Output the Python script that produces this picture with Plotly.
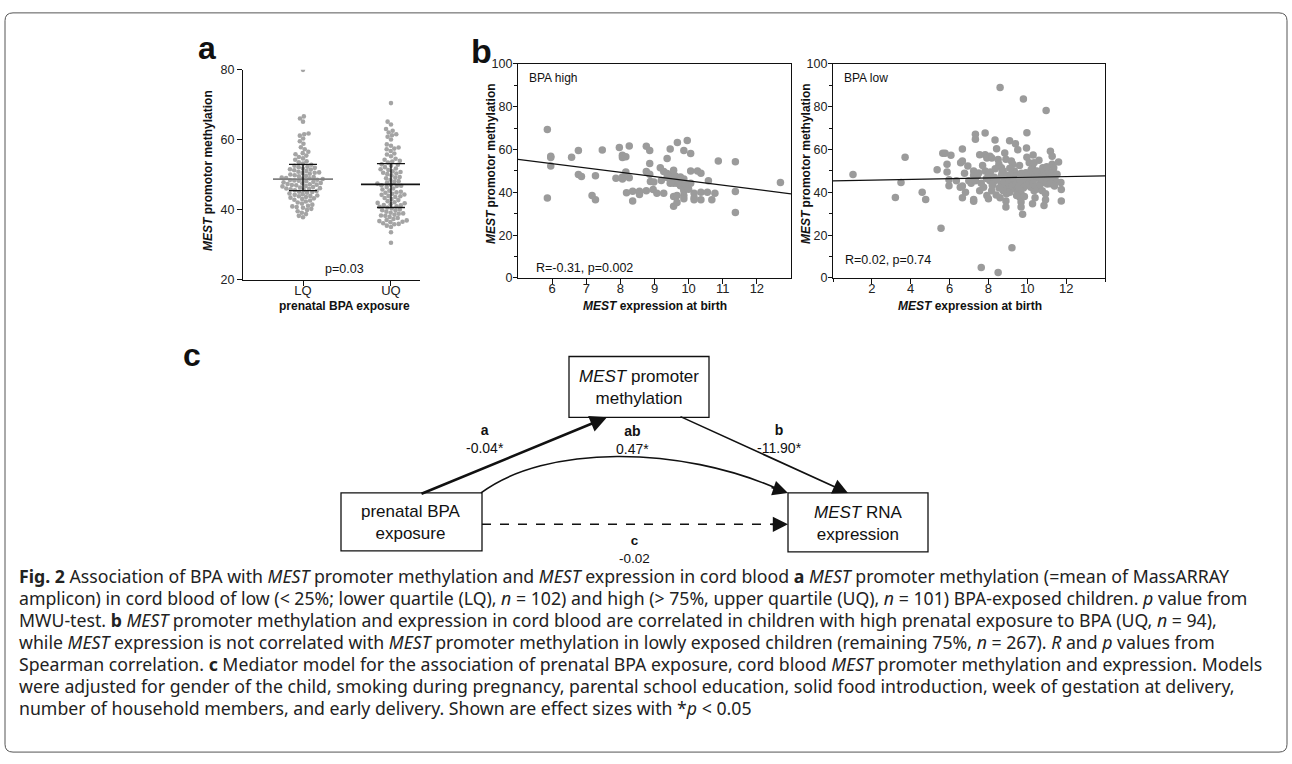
import plotly.graph_objects as go
import math

W, H = 1292, 764
def px(x): return x / W
def py(y): return 1 - y / H

# ---------------- DATA ----------------
groups = ["LQ", "UQ"]
lq_meth = [80.0, 66.7, 66.1, 65.2, 61.8, 61.6, 61.2, 60.4, 59.6, 58.9, 57.9, 57.3, 56.6, 56.2, 55.9,
           55.5, 55.1, 54.7, 54.3, 53.9, 53.6, 53.2, 52.9, 52.6, 52.3, 52.0, 51.8, 51.5, 51.3, 51.1,
           50.9, 50.7, 50.5, 50.3, 50.1, 49.9, 49.7, 49.6, 49.4, 49.2, 49.1, 48.9, 48.8, 48.6, 48.5,
           48.3, 48.2, 48.0, 47.9, 47.7, 47.6, 47.4, 47.3, 47.1, 47.0, 46.8, 46.7, 46.5, 46.4, 46.2,
           46.1, 45.9, 45.7, 45.6, 45.4, 45.2, 45.1, 44.9, 44.7, 44.5, 44.3, 44.1, 43.9, 43.7, 43.5,
           43.3, 43.1, 42.9, 42.7, 42.4, 42.1, 41.8, 41.5, 41.2, 41.0, 40.8, 40.6, 40.3, 40.0, 39.6,
           39.2, 38.8, 38.3, 37.9, 50.6, 49.0, 48.4, 47.2, 46.0, 51.6, 44.0, 52.2]
uq_meth = [70.5, 65.2, 64.4, 63.1, 62.6, 62.1, 61.6, 60.9, 60.1, 58.3, 57.8, 57.3, 56.8, 56.1, 55.3,
           54.6, 54.0, 53.5, 53.0, 52.6, 52.2, 51.8, 51.4, 51.0, 50.6, 50.2, 49.8, 49.4, 49.0, 48.6,
           48.2, 47.8, 47.5, 47.2, 46.8, 46.5, 46.1, 45.8, 45.5, 45.2, 44.9, 44.6, 44.3, 44.0, 43.7,
           43.4, 43.1, 42.8, 42.5, 42.2, 41.9, 41.6, 41.3, 41.0, 40.7, 40.4, 40.1, 39.8, 39.5, 39.2,
           38.9, 38.6, 38.3, 38.0, 37.7, 37.4, 37.1, 36.8, 36.5, 36.2, 35.9, 35.5, 35.1, 33.6, 30.6,
           58.7, 57.5, 53.8, 52.9, 51.6, 50.4, 49.2, 48.0, 46.9, 45.0, 43.9, 42.0, 40.9, 39.9, 38.4,
           37.0, 36.0, 55.8, 54.3, 50.8, 47.0, 44.4, 41.4, 39.0, 36.6, 61.3]
group_mean = [48.8, 47.3]
group_upper = [53.0, 53.2]
group_lower = [45.5, 40.7]
p_text_a = "p=0.03"

high_pts = [(5.86, 69.4), (5.96, 56.9), (5.96, 56.3), (5.96, 52.3), (5.86, 37.3), (6.57, 56.4), (6.77, 59.6),
            (6.77, 48.3), (6.86, 47.4), (7.27, 47.7), (7.17, 38.5), (7.27, 36.5), (7.47, 59.8), (7.87, 46.6),
            (7.97, 61.0), (8.06, 57.3), (8.06, 56.3), (8.16, 56.6), (8.06, 47.2), (8.06, 46.2), (8.16, 49.5),
            (8.26, 46.8), (8.26, 61.6), (8.18, 39.8), (8.36, 40.5), (8.36, 35.9), (8.56, 40.5), (8.56, 39.0),
            (8.76, 61.5), (8.86, 59.5), (8.76, 49.7), (8.86, 48.5), (8.86, 53.5), (8.76, 40.8), (8.88, 45.1),
            (8.98, 44.8), (8.96, 41.3), (9.07, 39.6), (9.17, 51.5), (9.27, 39.6), (9.37, 55.8), (9.46, 60.2),
            (9.27, 49.7), (9.37, 48.8), (9.46, 48.2), (9.56, 50.3), (9.37, 46.9), (9.46, 46.2), (9.56, 46.6),
            (9.46, 44.2), (9.56, 44.2), (9.66, 44.2), (9.66, 46.9), (9.76, 47.2), (9.56, 38.1), (9.66, 38.5),
            (9.56, 33.5), (9.66, 35.3), (9.67, 63.3), (9.76, 45.4), (9.86, 46.2), (9.76, 43.1), (9.86, 38.5),
            (9.86, 37.0), (9.86, 41.6), (9.86, 40.8), (9.86, 59.5), (9.96, 64.2), (10.06, 58.1), (10.06, 50.0),
            (10.06, 44.2), (10.16, 39.6), (10.16, 37.5), (10.16, 36.5), (10.26, 50.0), (10.36, 48.9),
            (10.36, 40.1), (10.36, 36.5), (10.55, 40.1), (10.58, 45.4), (10.68, 36.5), (10.77, 39.6),
            (10.87, 54.6), (11.37, 54.3), (11.37, 40.4), (11.37, 30.6), (12.69, 44.6), (9.5, 45.0),
            (9.6, 47.8), (9.7, 45.5), (9.4, 47.5), (9.9, 44.0), (9.2, 45.5), (10.0, 41.5)]
high_fit = (65.45, -2.01)   # intercept, slope

low_pts = [(1.03, 48.3), (3.71, 56.4), (3.21, 37.6), (3.5, 44.6), (4.59, 40.1), (4.77, 36.7), (5.36, 50.5),
           (5.56, 23.2), (5.65, 58.3), (5.77, 58.3), (5.87, 53.1), (5.87, 49.5), (5.97, 45.9), (5.97, 43.1),
           (6.07, 57.3), (6.35, 45.4), (6.57, 53.8), (6.66, 54.6), (6.66, 60.2), (6.55, 42.4), (6.66, 43.0),
           (6.66, 37.5), (6.77, 48.9), (6.82, 40.1), (6.94, 52.3), (6.99, 45.4), (7.11, 44.2), (7.24, 50.0),
           (7.24, 48.0), (7.24, 36.7), (7.24, 35.8), (7.33, 67.1), (7.33, 64.8), (7.33, 45.4), (7.43, 47.7),
           (7.55, 57.6), (7.55, 40.8), (7.63, 44.3), (7.75, 42.4), (7.63, 4.9), (7.83, 67.7), (7.83, 57.6),
           (7.92, 56.1), (7.83, 50.0), (8.0, 48.5), (7.92, 38.5), (8.0, 37.0), (8.08, 56.9), (8.17, 56.1),
           (8.08, 45.4), (8.25, 44.6), (8.17, 40.8), (8.34, 64.5), (8.42, 60.4), (8.5, 55.4), (8.5, 2.6),
           (8.6, 89.0), (8.54, 53.1), (8.67, 51.5), (8.76, 50.0), (8.67, 47.7), (8.84, 46.9), (9.0, 46.2),
           (8.67, 43.9), (8.84, 43.1), (9.0, 42.4), (8.76, 40.8), (8.93, 39.3), (9.1, 40.1), (8.6, 37.5),
           (8.84, 58.4), (8.9, 35.9), (8.9, 33.2), (9.09, 64.1), (9.18, 54.6), (9.26, 53.1), (9.21, 14.1),
           (9.39, 62.7), (9.51, 59.9), (9.34, 50.0), (9.51, 48.5), (9.68, 46.9), (9.34, 45.4), (9.51, 44.6),
           (9.68, 43.9), (9.34, 41.6), (9.51, 40.8), (9.68, 39.3), (9.6, 37.8), (9.68, 35.5), (9.68, 33.2),
           (9.76, 29.8), (9.8, 83.6), (9.85, 46.9), (9.93, 49.2), (10.0, 45.4), (9.96, 60.7), (9.98, 56.4),
           (9.98, 67.9), (10.1, 53.8), (10.27, 51.5), (10.35, 53.8), (10.18, 47.7), (10.35, 46.2),
           (10.52, 46.9), (10.18, 42.4), (10.35, 40.8), (10.52, 41.6), (10.27, 34.7), (10.69, 49.2),
           (10.86, 49.2), (11.03, 47.7), (10.69, 45.4), (10.86, 44.6), (11.03, 43.9), (10.77, 40.8),
           (10.94, 39.3), (10.86, 33.9), (10.94, 36.5), (10.97, 78.3), (11.19, 59.2), (11.28, 56.9),
           (11.28, 53.1), (11.36, 51.5), (11.36, 49.2), (11.53, 48.5), (11.45, 45.4), (11.61, 54.2),
           (11.73, 44.6), (11.75, 41.3), (11.75, 35.9), (8.3, 47.0), (8.45, 45.8), (8.55, 42.0), (8.7, 49.0),
           (8.8, 45.0), (8.95, 48.0), (9.05, 44.5), (9.15, 47.5), (9.2, 43.0), (9.25, 49.5), (9.3, 46.5),
           (9.4, 43.5), (9.45, 47.8), (9.55, 42.5), (9.6, 45.9), (9.7, 48.9), (9.75, 44.8), (9.8, 42.0),
           (9.9, 47.3), (9.95, 43.2), (10.05, 48.8), (10.1, 44.0), (10.15, 46.5), (10.2, 50.5), (10.3, 44.5),
           (10.4, 48.2), (10.45, 43.0), (10.5, 50.0), (10.6, 47.0), (10.65, 43.5), (10.75, 46.0),
           (10.8, 51.5), (10.9, 47.5), (11.0, 45.2), (11.1, 49.5), (11.15, 46.3), (11.2, 44.0), (11.3, 47.5),
           (11.4, 43.0), (7.9, 46.5), (8.1, 49.5), (8.2, 43.2), (8.35, 51.0), (8.4, 38.8), (9.1, 51.2),
           (9.45, 38.5), (9.85, 38.0), (10.4, 37.5), (7.7, 52.5), (7.5, 49.0), (8.9, 55.5), (9.6, 52.5),
           (10.6, 55.0), (11.0, 52.0), (10.3, 57.5)]
low_fit = (45.4, 0.164)

high_x_ticks = [6, 7, 8, 9, 10, 11, 12]
low_x_ticks = [2, 4, 6, 8, 10, 12]
meth_ticks = [0, 20, 40, 60, 80, 100]
a_ticks = [20, 40, 60, 80]

# ---------------- helpers ----------------
A_Y0, A_Y1 = 278, 64          # pixel rows of 20 and 80
A_X0, A_X1 = 243, 420
A_XR = (0.318, 2.33)
px_per_unit_y = (A_Y0 - A_Y1) / 60.0
px_per_unit_x = (A_X1 - A_X0) / (A_XR[1] - A_XR[0])

def swarm(values, d=4.4):
    order = sorted(range(len(values)), key=lambda i: values[i])
    placed = []
    offs = [0.0] * len(values)
    for i in order:
        yy = values[i] * px_per_unit_y
        forb = []
        for (xo, yo) in placed:
            dy = abs(yy - yo)
            if dy < d:
                w = math.sqrt(d * d - dy * dy)
                forb.append((xo - w, xo + w))
        cands = [0.0] + [e for iv in forb for e in iv]
        cands.sort(key=lambda c: (abs(c), c))
        best = 0.0
        for c in cands:
            if all(not (lo + 1e-9 < c < hi - 1e-9) for lo, hi in forb):
                best = c
                break
        placed.append((best, yy))
        offs[i] = best / px_per_unit_x
    return offs

fig = go.Figure()

# ---- panel a ----
dot_color = "#a4a4a4"
for gi, vals in enumerate([lq_meth, uq_meth]):
    offs = swarm(vals)
    fig.add_trace(go.Scatter(x=[gi + 1 + o for o in offs], y=vals, mode="markers",
                             marker=dict(size=4.6, color=dot_color), xaxis="x", yaxis="y",
                             showlegend=False, hoverinfo="skip"))
mean_half = 30 / px_per_unit_x
wh_half = 14 / px_per_unit_x
mean_colors = ["#7f7f7f", "#111111"]
for gi in range(2):
    cx = gi + 1
    fig.add_trace(go.Scatter(x=[cx - mean_half, cx + mean_half], y=[group_mean[gi]] * 2, mode="lines",
                             line=dict(color=mean_colors[gi], width=1.8), xaxis="x", yaxis="y",
                             showlegend=False, hoverinfo="skip"))
    for v in (group_upper[gi], group_lower[gi]):
        fig.add_trace(go.Scatter(x=[cx - wh_half, cx + wh_half], y=[v, v], mode="lines",
                                 line=dict(color="#111111", width=1.4), xaxis="x", yaxis="y",
                                 showlegend=False, hoverinfo="skip"))
    fig.add_trace(go.Scatter(x=[cx, cx], y=[group_lower[gi], group_upper[gi]], mode="lines",
                             line=dict(color="#111111", width=1.4), xaxis="x", yaxis="y",
                             showlegend=False, hoverinfo="skip"))

# ---- panel b ----
sc_color = "#9b9b9b"
hx, hy = zip(*high_pts)
fig.add_trace(go.Scatter(x=hx, y=hy, mode="markers", marker=dict(size=7.5, color=sc_color),
                         xaxis="x2", yaxis="y2", showlegend=False, hoverinfo="skip"))
fig.add_trace(go.Scatter(x=[5, 13], y=[high_fit[0] + high_fit[1] * 5, high_fit[0] + high_fit[1] * 13],
                         mode="lines", line=dict(color="#111", width=1.2), xaxis="x2", yaxis="y2",
                         showlegend=False, hoverinfo="skip"))
lx, ly = zip(*low_pts)
fig.add_trace(go.Scatter(x=lx, y=ly, mode="markers", marker=dict(size=7.5, color=sc_color),
                         xaxis="x3", yaxis="y3", showlegend=False, hoverinfo="skip"))
fig.add_trace(go.Scatter(x=[0, 14], y=[low_fit[0], low_fit[0] + low_fit[1] * 14],
                         mode="lines", line=dict(color="#111", width=1.2), xaxis="x3", yaxis="y3",
                         showlegend=False, hoverinfo="skip"))

tickfont = dict(family="Liberation Sans, Arial", size=12.5, color="#222")
xtickfont = dict(family="Liberation Sans, Arial", size=13, color="#222")
ax_common = dict(showline=True, linecolor="#111", linewidth=1.3, ticks="outside", ticklen=5,
                 tickcolor="#111", tickwidth=1.2, showgrid=False, zeroline=False, tickfont=tickfont)
xa = {**ax_common, "tickfont": xtickfont, "ticklabelstandoff": -7}
yb = {**ax_common, "ticklen": 4, "ticklabelstandoff": -2}

fig.update_layout(
    width=W, height=H, margin=dict(l=0, r=0, t=0, b=0),
    paper_bgcolor="white", plot_bgcolor="rgba(0,0,0,0)",
    xaxis=dict(domain=[px(A_X0), px(A_X1)], range=list(A_XR), anchor="y", tickvals=[1, 2],
               ticktext=groups, **xa),
    yaxis=dict(domain=[py(A_Y0), py(A_Y1)], range=[20, 80], anchor="x", tickvals=a_ticks, **ax_common),
    xaxis2=dict(domain=[px(518), px(791)], range=[5, 13], anchor="y2", tickvals=high_x_ticks, mirror=True, **xa),
    yaxis2=dict(domain=[py(276), py(58)], range=[0, 100], anchor="x2", tickvals=meth_ticks, mirror=True,
                minor=dict(dtick=10, ticks="outside", ticklen=3, tickcolor="#111"), **yb),
    xaxis3=dict(domain=[px(833), px(1105)], range=[0, 14], anchor="y3", tickvals=low_x_ticks, mirror=True,
                minor=dict(dtick=2, tick0=0, ticks="outside", ticklen=3, tickcolor="#111"), **xa),
    yaxis3=dict(domain=[py(276), py(58)], range=[0, 100], anchor="x3", tickvals=meth_ticks, mirror=True,
                minor=dict(dtick=10, ticks="outside", ticklen=3, tickcolor="#111"), **yb),
)

ann = []
def text(x, y, s, size=12, family="Liberation Sans, Arial", angle=0, xanchor="center", color="#111"):
    ann.append(dict(x=px(x), y=py(y), xref="paper", yref="paper", text=s, showarrow=False,
                    textangle=angle, xanchor=xanchor, yanchor="middle", borderpad=0,
                    font=dict(family=family, size=size, color=color)))

# panel letters
text(207, 42, "<b>a</b>", size=32)
text(481, 45, "<b>b</b>", size=34)
text(192, 355, "<b>c</b>", size=32)

# axis titles
ytitle = "<b><i>MEST</i> promotor methylation</b>"
text(208, 167, ytitle, size=12, angle=-90)
text(491, 160, ytitle, size=12, angle=-90)
text(806, 160, ytitle, size=12, angle=-90)
text(345, 305, "<b>prenatal BPA exposure</b>", size=12)
text(655, 305, "<b><i>MEST</i> expression at birth</b>", size=12)
text(970, 305, "<b><i>MEST</i> expression at birth</b>", size=12)

# in-panel texts
text(345, 267, p_text_a, size=12.5)
text(528, 72, "BPA high", size=12, xanchor="left")
text(535, 266, "R=-0.31, p=0.002", size=12.5, xanchor="left")
text(843, 72, "BPA low", size=12, xanchor="left")
text(844, 258, "R=0.02, p=0.74", size=12.5, xanchor="left")

# ---- panel c (diagram) ----
shapes = []
def box(x0, y0, x1, y1):
    shapes.append(dict(type="rect", xref="paper", yref="paper", x0=px(x0), x1=px(x1), y0=py(y1), y1=py(y0),
                       line=dict(color="#111", width=1.3), fillcolor="white"))
box(569, 356, 709, 418)
box(341, 495, 482, 554)
box(788, 495, 928, 555)

dfont = "Liberation Sans, Arial"
text(639, 388, "<i>MEST</i> promoter<br>methylation", size=17, family=dfont)
text(411, 525, "prenatal BPA<br>exposure", size=17, family=dfont)
text(858, 526, "<i>MEST</i> RNA<br>expression", size=17, family=dfont)

text(485, 440, "<b>a</b><br>-0.04*", size=14, family=dfont)
text(632, 441, "<b>ab</b><br>0.47*", size=14, family=dfont)
text(779, 440, "<b>b</b><br>-11.90*", size=14, family=dfont)
text(634, 553, "<b>c</b><br>-0.02", size=13.5, family=dfont)

def arrow(tail, tip, width, size):
    ann.append(dict(x=px(tip[0]), y=py(tip[1]), xref="paper", yref="paper", text="",
                    showarrow=True, ax=tail[0] - tip[0], ay=tail[1] - tip[1],
                    arrowhead=2, arrowsize=size, arrowwidth=width, arrowcolor="#111", standoff=0,
                    startstandoff=0))

arrow((420, 495), (607, 418), 2.6, 1.3)
arrow((679, 418), (848, 495), 1.6, 1.9)
# curved ab path
shapes.append(dict(type="path", xref="paper", yref="paper",
                   path=f"M {px(481)},{py(495)} C {px(545)},{py(446)} {px(680)},{py(446)} {px(780)},{py(492)}",
                   line=dict(color="#111", width=1.6)))
arrow((770, 489), (788, 495), 1.6, 1.9)
# dashed c
shapes.append(dict(type="line", xref="paper", yref="paper", x0=px(482), x1=px(778), y0=py(527), y1=py(527),
                   line=dict(color="#111", width=1.5, dash="dash")))
arrow((770, 527), (788, 527), 1.6, 1.9)

# outer frame (rounded corners)
fx0, fy0, fx1, fy1, r = 5, 6, 1287, 759, 8
frame_path = (f"M {px(fx0 + r)},{py(fy0)} L {px(fx1 - r)},{py(fy0)} Q {px(fx1)},{py(fy0)} {px(fx1)},{py(fy0 + r)} "
              f"L {px(fx1)},{py(fy1 - r)} Q {px(fx1)},{py(fy1)} {px(fx1 - r)},{py(fy1)} "
              f"L {px(fx0 + r)},{py(fy1)} Q {px(fx0)},{py(fy1)} {px(fx0)},{py(fy1 - r)} "
              f"L {px(fx0)},{py(fy0 + r)} Q {px(fx0)},{py(fy0)} {px(fx0 + r)},{py(fy0)} Z")
shapes.append(dict(type="path", xref="paper", yref="paper", path=frame_path,
                   line=dict(color="#555", width=1), fillcolor="rgba(0,0,0,0)", layer="below"))

# ---- caption ----
cap_lines = [
    "<b>Fig. 2</b> Association of BPA with <i>MEST</i> promoter methylation and <i>MEST</i> expression in cord blood <b>a</b> <i>MEST</i> promoter methylation (=mean of MassARRAY",
    "amplicon) in cord blood of low (&lt; 25%; lower quartile (LQ), <i>n</i> = 102) and high (&gt; 75%, upper quartile (UQ), <i>n</i> = 101) BPA-exposed children. <i>p</i> value from",
    "MWU-test. <b>b</b> <i>MEST</i> promoter methylation and expression in cord blood are correlated in children with high prenatal exposure to BPA (UQ, <i>n</i> = 94),",
    "while <i>MEST</i> expression is not correlated with <i>MEST</i> promoter methylation in lowly exposed children (remaining 75%, <i>n</i> = 267). <i>R</i> and <i>p</i> values from",
    "Spearman correlation. <b>c</b> Mediator model for the association of prenatal BPA exposure, cord blood <i>MEST</i> promoter methylation and expression. Models",
    "were adjusted for gender of the child, smoking during pregnancy, parental school education, solid food introduction, week of gestation at delivery,",
    "number of household members, and early delivery. Shown are effect sizes with *<i>p</i> &lt; 0.05",
]
for i, line in enumerate(cap_lines):
    text(18, 580 + i * 22.3, line, size=17.7, family="Noto Sans, Open Sans", xanchor="left", color="#222")

fig.update_layout(annotations=ann, shapes=shapes)
fig.write_html("out.html", config={"displayModeBar": False},
               post_script="var d=document.getElementById('{plot_id}');"
                           "d.style.position='fixed';d.style.top='0px';d.style.left='0px';"
                           "document.body.style.margin='0';document.body.style.padding='0';"
                           "document.documentElement.style.overflow='hidden';")
